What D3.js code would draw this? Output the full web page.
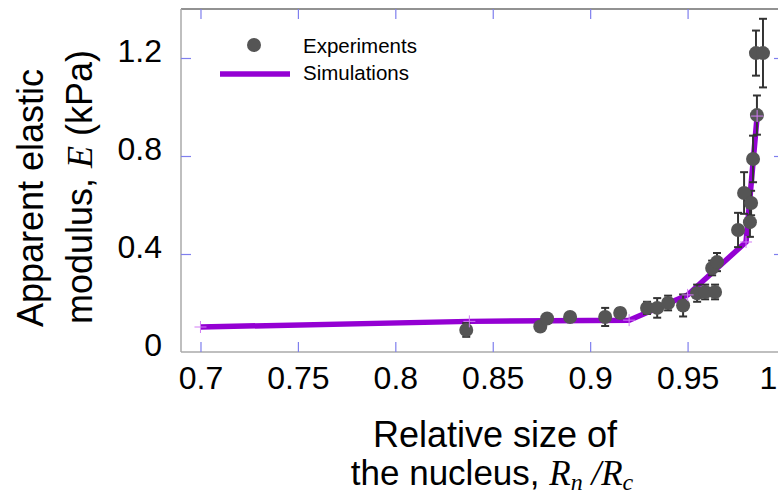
<!DOCTYPE html>
<html><head><meta charset="utf-8">
<script src="https://cdn.jsdelivr.net/npm/d3@7"></script>
<style>body{margin:0;background:#fff;} svg{display:block;}</style>
</head><body>
<svg id="c" width="778" height="495"></svg>
<script>
// Experimental data (relative nucleus size, apparent modulus kPa, error)
const expX = [0.8364, 0.8744, 0.8779, 0.8897, 0.9077, 0.9154, 0.9292, 0.9344, 0.9400, 0.9477, 0.9549, 0.9590, 0.9641, 0.9626, 0.9651, 0.9759, 0.9790, 0.9820, 0.9826, 0.9836, 0.9856, 0.9851, 0.9887];
const expY = [0.090, 0.104, 0.137, 0.143, 0.143, 0.159, 0.180, 0.180, 0.200, 0.190, 0.240, 0.245, 0.245, 0.343, 0.367, 0.498, 0.649, 0.530, 0.608, 0.788, 0.967, 1.220, 1.220];
const expErr = [0.028, 0.012, 0.015, 0.015, 0.037, 0.020, 0.025, 0.040, 0.030, 0.045, 0.035, 0.030, 0.030, 0.030, 0.037, 0.070, 0.085, 0.060, 0.050, 0.095, 0.080, 0.092, 0.140];
// Simulation
const simX = [0.7, 0.838, 0.92, 0.95, 0.98, 0.9857];
const simY = [0.102, 0.125, 0.130, 0.233, 0.449, 0.963];
// Ticks
const xTicks = [0.7, 0.75, 0.8, 0.85, 0.9, 0.95, 1];
const xTickLabels = ["0.7", "0.75", "0.8", "0.85", "0.9", "0.95", "1"];
const yTicks = [0, 0.4, 0.8, 1.2];
const yTickLabels = ["0", "0.4", "0.8", "1.2"];

const svg = d3.select("#c");
const L = 181, R = 785, T = 9, B = 352;
const x = d3.scaleLinear().domain([0.69, 1.0]).range([L, R]);
const y = d3.scaleLinear().domain([0, 1.4]).range([B, T]);
const FONT = "'Liberation Sans', Arial, sans-serif";
const SER = "'Liberation Serif', 'Times New Roman', serif";
const TICKC = "#7f7fee";
const SIMC = "#9400d3";

// axes frame
svg.append("line").attr("x1", L).attr("x2", 778).attr("y1", T).attr("y2", T).attr("stroke", "#6e6e6e").attr("stroke-width", 1.5);
svg.append("line").attr("x1", L).attr("x2", L).attr("y1", T).attr("y2", B).attr("stroke", "#aaa").attr("stroke-width", 1.5);
svg.append("line").attr("x1", L).attr("x2", 778).attr("y1", B).attr("y2", B).attr("stroke", "#aaa").attr("stroke-width", 1.5);

function styleAxis(g) {
  g.select(".domain").remove();
  g.selectAll(".tick line").attr("stroke", TICKC).attr("stroke-width", 1.2);
  g.selectAll(".tick text").attr("fill", "#000").style("font-family", FONT);
}

const gx = svg.append("g").attr("transform", `translate(0,${B})`)
  .call(d3.axisBottom(x).tickValues(xTicks).tickFormat((d, i) => xTickLabels[i]).tickSize(-10).tickPadding(14));
styleAxis(gx);
gx.selectAll(".tick text").style("font-size", "32px");
gx.selectAll(".tick").filter(d => d === 1).select("text").attr("dx", -17);

const gxt = svg.append("g").attr("transform", `translate(0,${T})`)
  .call(d3.axisTop(x).tickValues(xTicks).tickFormat("").tickSize(-10));
styleAxis(gxt);

const gy = svg.append("g").attr("transform", `translate(${L},0)`)
  .call(d3.axisLeft(y).tickValues(yTicks).tickFormat((d, i) => yTickLabels[i]).tickSize(-10).tickPadding(19));
styleAxis(gy);
gy.selectAll(".tick text").style("font-size", "32px").attr("dy", "0.12em");
gy.selectAll(".tick").filter(d => d === 0).select("line").remove();

const gyr = svg.append("g").attr("transform", `translate(${R - 1},0)`)
  .call(d3.axisRight(y).tickValues(yTicks.filter(d => d > 0)).tickFormat("").tickSize(-10));
styleAxis(gyr);

// simulation line
const line = d3.line().x(d => x(d[0])).y(d => y(d[1]));
const simData = simX.map((v, i) => [v, simY[i]]);
svg.append("path").datum(simData).attr("d", line).attr("fill", "none")
  .attr("stroke", SIMC).attr("stroke-width", 5.5).attr("stroke-linejoin", "miter");

// error bars
const expData = expX.map((v, i) => ({x: v, y: expY[i], e: expErr[i]}));
const eb = svg.append("g").attr("stroke", "#333").attr("stroke-width", 2);
expData.forEach(d => {
  const cx = x(d.x), y1 = y(d.y + d.e), y2 = y(d.y - d.e);
  eb.append("line").attr("x1", cx).attr("x2", cx).attr("y1", y1).attr("y2", y2);
  eb.append("line").attr("x1", cx - 4).attr("x2", cx + 4).attr("y1", y1).attr("y2", y1);
  eb.append("line").attr("x1", cx - 4).attr("x2", cx + 4).attr("y1", y2).attr("y2", y2);
});
// points
svg.append("g").selectAll("circle").data(expData).join("circle")
  .attr("cx", d => x(d.x)).attr("cy", d => y(d.y)).attr("r", 7).attr("fill", "#555");

// simulation crosshair markers
const cross = svg.append("g").attr("stroke", "#d27cf5").attr("stroke-width", 1);
simData.forEach(d => {
  const cx = x(d[0]), cy = y(d[1]);
  cross.append("line").attr("x1", cx - 6).attr("x2", cx + 6).attr("y1", cy).attr("y2", cy);
  cross.append("line").attr("x1", cx).attr("x2", cx).attr("y1", cy - 6).attr("y2", cy + 6);
});

// legend
svg.append("circle").attr("cx", 254).attr("cy", 45).attr("r", 7).attr("fill", "#555");
svg.append("line").attr("x1", 220).attr("x2", 290).attr("y1", 74).attr("y2", 74).attr("stroke", SIMC).attr("stroke-width", 5.5);
svg.append("text").attr("x", 303).attr("y", 53).text("Experiments").style("font-family", FONT).style("font-size", "20.5px");
svg.append("text").attr("x", 303).attr("y", 80).text("Simulations").style("font-family", FONT).style("font-size", "20.5px");

// y title
svg.append("text").attr("transform", "translate(43,198) rotate(-90)").attr("text-anchor", "middle")
  .style("font-family", FONT).style("font-size", "36px").text("Apparent elastic");
const yt2 = svg.append("text").attr("transform", "translate(92,187) rotate(-90)").attr("text-anchor", "middle")
  .style("font-family", FONT).style("font-size", "36px");
yt2.append("tspan").text("modulus, ");
yt2.append("tspan").text("E").style("font-family", SER).style("font-style", "italic");
yt2.append("tspan").text(" (kPa)");

// x title
svg.append("text").attr("x", 495).attr("y", 447).attr("text-anchor", "middle")
  .style("font-family", FONT).style("font-size", "36px").text("Relative size of");
const xt2 = svg.append("text").attr("x", 492).attr("y", 485).attr("text-anchor", "middle")
  .style("font-family", FONT).style("font-size", "35px");
xt2.append("tspan").text("the nucleus, ");
xt2.append("tspan").text("R").style("font-family", SER).style("font-style", "italic");
xt2.append("tspan").text("n").attr("dy", 5).style("font-family", SER).style("font-style", "italic").style("font-size", "24px");
xt2.append("tspan").text(" /").attr("dy", -5).style("font-family", SER).style("font-style", "italic");
xt2.append("tspan").text("R").style("font-family", SER).style("font-style", "italic");
xt2.append("tspan").text("c").attr("dy", 5).style("font-family", SER).style("font-style", "italic").style("font-size", "24px");
</script>
</body></html>
